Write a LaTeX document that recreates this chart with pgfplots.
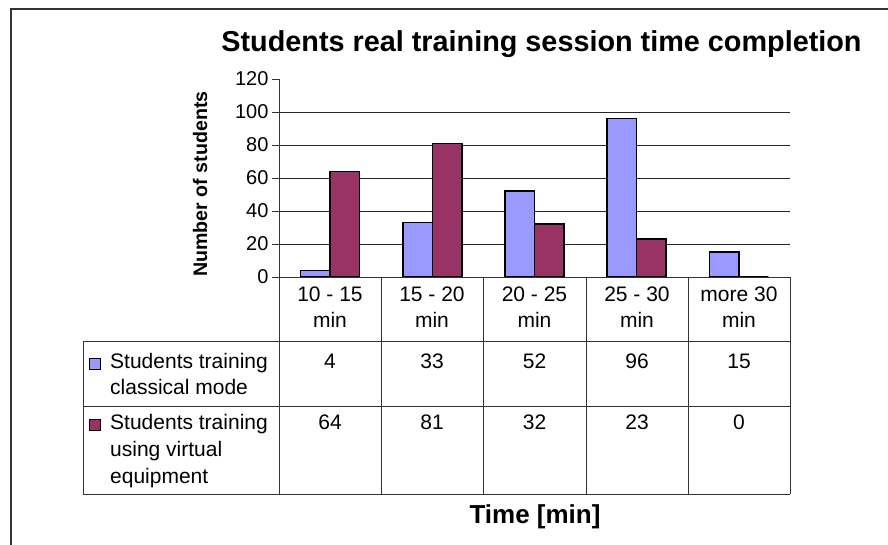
\documentclass[border=0pt]{standalone}
\usepackage{fontspec}
\setmainfont{Liberation Sans}
\usepackage{pgfplots}
\usepackage{pgfplotstable}
\pgfplotsset{compat=1.18}

\definecolor{xlblue}{HTML}{9999FF}
\definecolor{xlplum}{HTML}{993366}
\definecolor{rule}{HTML}{333333}

% time band, classical mode, virtual equipment
\pgfplotstableread{
cat classical virtual
1   4   64
2   33  81
3   52  32
4   96  23
5   15  0
}\times

\begin{document}
\begin{tikzpicture}
\useasboundingbox (0,0) rectangle (888pt,544pt);

\begin{axis}[
	at={(279pt,267pt)}, anchor=south west,
	scale only axis, width=511pt, height=198pt,
	xmin=0.5, xmax=5.5, ymin=0, ymax=120,
	ybar=0pt, bar width=29.5pt,
	axis lines*=left,
	axis line style={-, rule, line width=0.9pt},
	xtick=\empty,
	ytick={0,20,...,100},
	extra y ticks={120},
	extra y tick style={grid=none},
	ymajorgrids,
	grid style={black!85, line width=0.9pt},
	tick align=outside,
	major tick length=7pt,
	y tick style={rule, line width=0.9pt},
	tick label style={font=\fontsize{20}{24}\selectfont},
	/pgf/number format/assume math mode=true,
	clip=false,
]
	\addplot[fill=xlblue, draw=black, line width=1.5pt] table[x=cat, y=classical] {\times};
	\addplot[fill=xlplum, draw=black, line width=1.5pt] table[x=cat, y=virtual] {\times};
\end{axis}

\begin{scope}[x=1pt, y=-1pt, shift={(0,544pt)}]
	% chart frame (runs off the page on the right and bottom)
	\draw[rule, line width=1.2pt] (11,560) -- (11,9) -- (900,9);

	% title and axis titles
	\node[anchor=base, font=\bfseries\fontsize{28.8}{32}\selectfont, inner sep=0]
		at (541.5,52) {Students real training session time completion};
	\node[anchor=base, rotate=90, font=\bfseries\fontsize{19.6}{22}\selectfont, inner sep=0]
		at (207,184) {Number of students};
	\node[anchor=base, font=\bfseries\fontsize{26}{30}\selectfont, inner sep=0]
		at (535,523) {Time [min]};

	% data table grid
	\draw[rule, line width=0.9pt] (279,277) -- (790,277);
	\foreach \yy in {341,406,494} \draw[rule, line width=0.9pt] (83,\yy) -- (790,\yy);
	\foreach \xx in {279,381,483,586,688,790} \draw[rule, line width=0.9pt] (\xx,277) -- (\xx,494);
	\draw[rule, line width=0.9pt] (83,341) -- (83,494);

	% category labels
	\begin{scope}[every node/.style={anchor=base, inner sep=0, font=\fontsize{21}{25}\selectfont}]
		\node at (330,301) {10 - 15};   \node at (330,327) {min};
		\node at (432,301) {15 - 20};   \node at (432,327) {min};
		\node at (534.5,301) {20 - 25}; \node at (534.5,327) {min};
		\node at (637,301) {25 - 30};   \node at (637,327) {min};
		\node at (739,301) {more 30};   \node at (739,327) {min};

		% values, read from the same table as the bars
		\foreach \i/\cx in {0/330,1/432,2/534.5,3/637,4/739} {
			\pgfplotstablegetelem{\i}{classical}\of\times
			\node at (\cx,368) {\pgfplotsretval};
			\pgfplotstablegetelem{\i}{virtual}\of\times
			\node at (\cx,429) {\pgfplotsretval};
		}
	\end{scope}

	% legend keys and series names
	\begin{scope}[every node/.style={anchor=base west, inner sep=0, font=\fontsize{21}{25}\selectfont}]
		\draw[fill=xlblue, draw=black, line width=0.9pt] (89,358) rectangle (100,369);
		\node at (110,368) {Students training};
		\node at (110,394.5) {classical mode};
		\draw[fill=xlplum, draw=black, line width=0.9pt] (89,419) rectangle (100,430);
		\node at (110,429) {Students training};
		\node at (110,456) {using virtual};
		\node at (110,483) {equipment};
	\end{scope}
\end{scope}
\end{tikzpicture}
\end{document}
